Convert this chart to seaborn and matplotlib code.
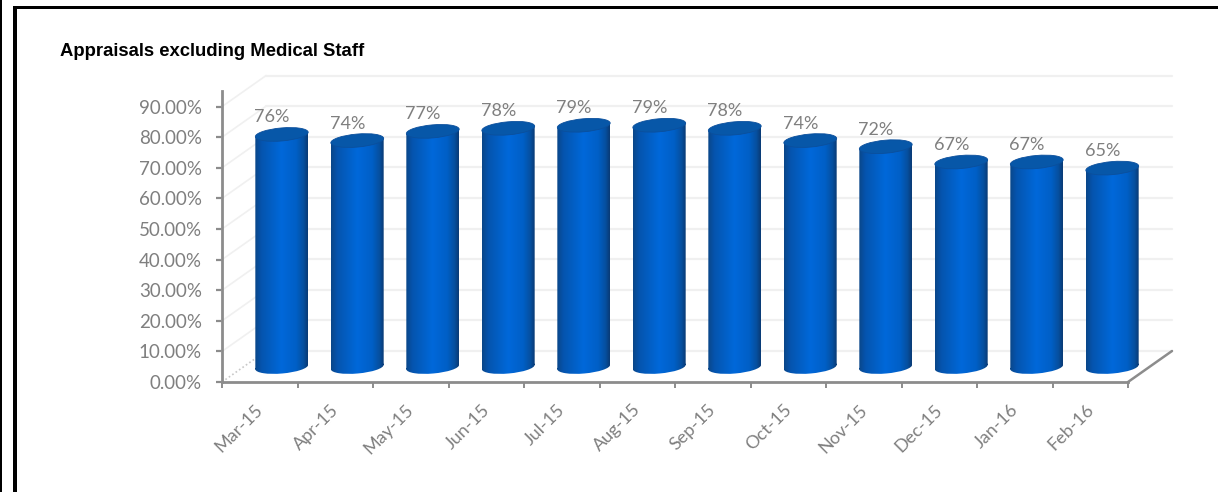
import numpy as np
import pandas as pd
import matplotlib
matplotlib.use("Agg")
import matplotlib.pyplot as plt
from matplotlib.colors import LinearSegmentedColormap
from matplotlib.patches import Ellipse, PathPatch, Rectangle
from matplotlib.path import Path
from matplotlib.transforms import Affine2D, IdentityTransform
import seaborn as sns

months = ["Mar-15", "Apr-15", "May-15", "Jun-15", "Jul-15", "Aug-15",
          "Sep-15", "Oct-15", "Nov-15", "Dec-15", "Jan-16", "Feb-16"]
appraisal_pct = [76, 74, 77, 78, 79, 79, 78, 74, 72, 67, 67, 65]
y_ticks = [0, 10, 20, 30, 40, 50, 60, 70, 80, 90]
title_text = "Appraisals excluding Medical Staff"

W, H = 1218, 492
DPI = 100
GREY = "#8c8c8c"
LABEL = "#7f7f7f"
WALL = "#f0f0f0"

sns.set_theme(style="white")
plt.rcParams["font.family"] = ["Lato", "DejaVu Sans"]

fig = plt.figure(figsize=(W / DPI, H / DPI), dpi=DPI, facecolor="white")

# plot area in pixels (y measured from top of the image)
X0, X1, Y0, PXU = 222, 1128, 382, 3.06
YTOP = Y0 - 95 * PXU
ax = fig.add_axes([X0 / W, 1 - Y0 / H, (X1 - X0) / W, (Y0 - YTOP) / H])
ax.patch.set_alpha(0)
ax.set_zorder(2)

df = pd.DataFrame({"month": months, "pct": appraisal_pct})
BAR_W = 0.70
sns.barplot(data=df, x="month", y="pct", ax=ax, width=BAR_W, color="#0060c8",
            saturation=1, zorder=3)
ax.set_xlim(-0.5, len(months) - 0.5)
ax.set_ylim(0, 95)
ax.set_xlabel("")
ax.set_ylabel("")

SHIFT_X, SHIFT_Y = 22, 15
wall_dx, wall_dy = 44, 31


def to_px(x, y):
    return ax.transData.transform((x, y))


fig.canvas.draw()

# back wall and side wall gridlines
for v in y_ticks:
    x_l, y_l = to_px(-0.5, v)
    x_r, _ = to_px(len(months) - 0.5, v)
    ls = (0, (1, 1.5)) if v == 0 else "-"
    col = "#c8c8c8" if v == 0 else WALL
    ax.plot([x_l, x_l + wall_dx], [y_l, y_l + wall_dy], color=col, lw=1.2, ls=ls,
            transform=IdentityTransform(), clip_on=False, zorder=1)
    ax.plot([x_l + wall_dx, x_r + wall_dx], [y_l + wall_dy] * 2, color=WALL, lw=1.6,
            transform=IdentityTransform(), clip_on=False, zorder=1)

# floor edge on the right
x_r, y_r = to_px(len(months) - 0.5, 0)
ax.plot([x_r, x_r + wall_dx], [y_r, y_r + wall_dy], color=GREY, lw=1.8,
        transform=IdentityTransform(), clip_on=False, zorder=2, solid_capstyle="round")

# cylinders: each seaborn bar is re-shaded with a horizontal gradient
body_cmap = LinearSegmentedColormap.from_list(
    "body", [(0, "#0a4688"), (0.12, "#0554ae"), (0.5, "#0068da"),
             (0.78, "#005fc6"), (0.92, "#064f9e"), (1, "#0a3a74")])
grad = np.linspace(0, 1, 256).reshape(1, -1)
EW, EH, TILT = 53, 13, 5

for i, (patch, v) in enumerate(zip(ax.patches[:len(months)], appraisal_pct)):
    left = patch.get_x()
    width = patch.get_width()
    (xa, ya) = to_px(left, 0)
    (xb, yb) = to_px(left + width, v)
    xa, xb, ya, yb = xa + SHIFT_X, xb + SHIFT_X, ya + SHIFT_Y, yb + SHIFT_Y
    xc = (xa + xb) / 2
    patch.set_visible(False)

    base = Ellipse((xc, ya), EW, EH, angle=TILT)
    base_path = base.get_patch_transform().transform_path(base.get_path())

    slope = np.tan(np.radians(TILT)) * (xb - xa) / 2
    side_path = Path([(xa, ya - slope), (xb, ya + slope), (xb, yb + slope),
                      (xa, yb - slope), (xa, ya - slope)])
    outline = Path.make_compound_path(side_path, base_path)
    clip = PathPatch(outline, transform=IdentityTransform(), facecolor="none",
                     edgecolor="none")
    ax.add_patch(clip)
    clip.set_clip_on(False)
    img = ax.imshow(grad, cmap=body_cmap, aspect="auto",
                    extent=(xa, xb, ya - 12, yb + slope + 1),
                    transform=IdentityTransform(), zorder=4, interpolation="bilinear")
    img.set_clip_box(fig.bbox)
    img.set_clip_path(clip)

    cap = Ellipse((xc, yb), EW, EH, angle=TILT, transform=IdentityTransform(),
                  facecolor="#0757a8", edgecolor="#0b4f9c", lw=0.6, zorder=5)
    ax.add_patch(cap)
    cap.set_clip_on(False)

    ax.annotate(f"{v}%", xy=(i, v), xytext=(12, 32), textcoords="offset pixels",
                ha="center", va="center", color=LABEL, fontsize=13, zorder=6,
                annotation_clip=False)

ax.set_xlim(-0.5, len(months) - 0.5)
ax.set_ylim(0, 95)

# axes
sns.despine(ax=ax, top=True, right=True)
for side in ("left", "bottom"):
    ax.spines[side].set_color(GREY)
    ax.spines[side].set_linewidth(2)
ax.set_yticks(y_ticks)
ax.set_yticklabels([f"{v:.2f}%" for v in y_ticks], color=LABEL, fontsize=13.5)
ax.tick_params(axis="y", length=4.5, width=1.6, color=GREY, pad=10, left=True)
edges = np.arange(len(months) + 1) - 0.5
ax.set_xticks(edges)
ax.set_xticklabels([])
ax.tick_params(axis="x", length=4.5, width=1.4, color=GREY, bottom=True)
ax.set_xticks(np.arange(len(months)), minor=True)
ax.set_xticklabels(months, minor=True, rotation=45, ha="right", rotation_mode="anchor",
                   color=LABEL, fontsize=13)
ax.tick_params(axis="x", which="minor", length=0, pad=14)
for lab in ax.get_xticklabels(minor=True):
    lab.set_transform(lab.get_transform() + Affine2D().translate(-5, 0))
ax.grid(False)

# title and frame
fig.text(60 / W, 1 - 55.5 / H, title_text, fontfamily="Liberation Sans", fontweight="bold",
         fontsize=13.3, color="black", ha="left", va="baseline")
frame = dict(transform=fig.transFigure, facecolor="black", edgecolor="none", zorder=10)
fig.add_artist(Rectangle((14 / W, 1 - 9 / H), (W - 14) / W, 3.5 / H, **frame))
fig.add_artist(Rectangle((13 / W, 0), 3.5 / W, 1 - 5.5 / H, **frame))
fig.add_artist(Rectangle((0, 0), 1.5 / W, 1, **frame))

fig.savefig("out.png", dpi=DPI, facecolor="white")
